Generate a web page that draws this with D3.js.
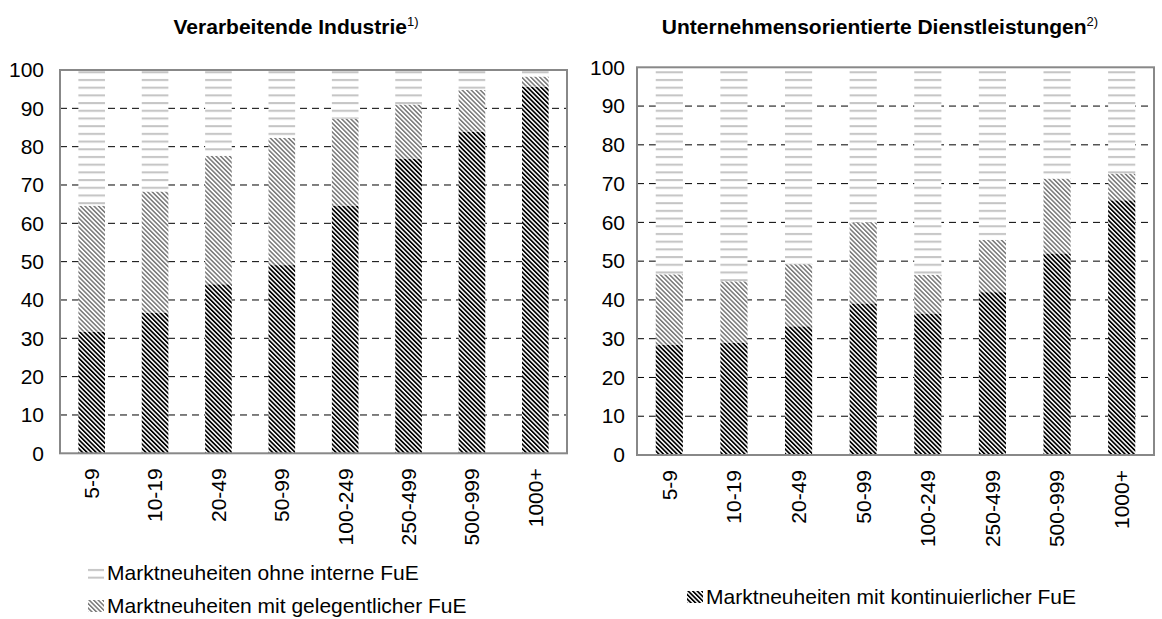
<!DOCTYPE html>
<html>
<head>
<meta charset="utf-8">
<script src="https://cdn.jsdelivr.net/npm/d3@7"></script>
<style>
body { margin: 0; background: #fff; }
text { font-family: "Liberation Sans", Arial, sans-serif; fill: #000; }
</style>
</head>
<body>
<div id="chart"></div>
<script>
var categories = ["5-9", "10-19", "20-49", "50-99", "100-249", "250-499", "500-999", "1000+"];
var seriesKeys = ["kont", "geleg", "ohne"];

// Verarbeitende Industrie
var indKont  = [31.7, 36.7, 44.1, 49.1, 64.6, 76.8, 83.9, 95.6];
var indGeleg = [32.9, 31.6, 33.5, 33.2, 22.7, 14.2, 10.9, 2.7];
var indOhne  = [35.4, 31.7, 22.4, 17.7, 12.7, 9.0, 5.2, 1.7];

// Unternehmensorientierte Dienstleistungen
var dlKont  = [28.4, 28.9, 33.2, 39.1, 36.5, 42.0, 52.0, 65.7];
var dlGeleg = [18.2, 15.9, 16.0, 20.9, 10.0, 13.5, 19.3, 6.9];
var dlOhne  = [53.4, 55.2, 50.8, 40.0, 53.5, 44.5, 28.7, 27.4];

var yTicks = [0, 10, 20, 30, 40, 50, 60, 70, 80, 90, 100];

var w_svg = 1162, h_svg = 619;
var fontFam = "'Liberation Sans', Arial, sans-serif";
var svg = d3.select("#chart").append("svg")
  .attr("width", w_svg).attr("height", h_svg);

// patterns
var defs = svg.append("defs");
function diag(id, color, period, lw) {
  var p = defs.append("pattern").attr("id", id)
    .attr("patternUnits", "userSpaceOnUse")
    .attr("width", period).attr("height", 10)
    .attr("patternTransform", "rotate(-45)");
  p.append("rect").attr("width", period).attr("height", 10).attr("fill", "#fff");
  p.append("rect").attr("width", lw).attr("height", 10).attr("fill", color);
}
diag("pKont", "#000", 3.2, 1.7);
diag("pGeleg", "#777", 3.2, 1.5);
var ph = defs.append("pattern").attr("id", "pOhne")
  .attr("patternUnits", "userSpaceOnUse")
  .attr("width", 10).attr("height", 7.7);
ph.append("rect").attr("width", 10).attr("height", 7.7).attr("fill", "#fff");
ph.append("rect").attr("y", 2).attr("width", 10).attr("height", 2).attr("fill", "#c4c4c4");

var fills = { kont: "url(#pKont)", geleg: "url(#pGeleg)", ohne: "url(#pOhne)" };

function drawPanel(opt) {
  var rows = categories.map(function(c, i) {
    return { cat: c, kont: opt.kont[i], geleg: opt.geleg[i], ohne: opt.ohne[i] };
  });
  var stacked = d3.stack().keys(seriesKeys)(rows);

  var x = d3.scaleBand().domain(categories).range([opt.x0, opt.x1]).paddingInner(0.58).paddingOuter(0.29);
  var y = d3.scaleLinear().domain([0, 100]).range([opt.y0, opt.y1]);

  var g = svg.append("g");

  // dashed grid
  g.selectAll(".grid").data(yTicks.filter(function(t) { return t > 0 && t < 100; }))
    .enter().append("line")
    .attr("x1", opt.x0).attr("x2", opt.x1)
    .attr("y1", function(d) { return y(d); }).attr("y2", function(d) { return y(d); })
    .style("stroke", "#000").style("stroke-width", 1)
    .style("stroke-dasharray", "7,5");

  g.selectAll(".series").data(stacked).enter().append("g")
    .style("fill", function(d) { return fills[d.key]; })
    .selectAll("rect").data(function(d) { return d; })
    .enter().append("rect")
    .attr("x", function(d) { return x(d.data.cat); })
    .attr("y", function(d) { return y(d[1]); })
    .attr("width", x.bandwidth())
    .attr("height", function(d) { return y(d[0]) - y(d[1]); });

  // frame
  g.append("rect")
    .attr("x", opt.x0).attr("y", opt.y1)
    .attr("width", opt.x1 - opt.x0).attr("height", opt.y0 - opt.y1)
    .style("fill", "none").style("stroke", "#888").style("stroke-width", 2);

  // y axis labels
  var ya = g.append("g").attr("transform", "translate(" + opt.x0 + ",0)")
    .call(d3.axisLeft(y).tickValues(yTicks).tickSize(0).tickPadding(opt.tickPad));
  ya.select(".domain").remove();
  ya.selectAll("text").style("font-size", "21px")
    .style("font-family", fontFam).attr("fill", "#000");

  // x axis labels
  var xa = g.append("g").attr("transform", "translate(0," + opt.y0 + ")")
    .call(d3.axisBottom(x).tickSize(0));
  xa.select(".domain").remove();
  xa.selectAll("text")
    .style("font-size", "21px")
    .style("font-family", fontFam)
    .attr("fill", "#000")
    .attr("text-anchor", "end")
    .attr("transform", "rotate(-90)")
    .attr("x", -15).attr("y", 0).attr("dy", "0.35em");

  // title
  var t = svg.append("text").attr("x", opt.titleX).attr("y", 34)
    .attr("text-anchor", "middle")
    .style("font-size", "21px").style("font-weight", "bold");
  t.append("tspan").text(opt.title);
  t.append("tspan").text(opt.sup).attr("dy", -8)
    .style("font-size", "13px").style("font-weight", "normal");
}

drawPanel({
  kont: indKont, geleg: indGeleg, ohne: indOhne,
  x0: 60, x1: 567, y0: 453.3, y1: 70, tickPad: 16,
  title: "Verarbeitende Industrie", sup: "1)", titleX: 296
});
drawPanel({
  kont: dlKont, geleg: dlGeleg, ohne: dlOhne,
  x0: 637, x1: 1154, y0: 455, y1: 67.3, tickPad: 12,
  title: "Unternehmensorientierte Dienstleistungen", sup: "2)", titleX: 880
});

// legends
var legend = [
  { key: "ohne", label: "Marktneuheiten ohne interne FuE", x: 88, y: 573 },
  { key: "geleg", label: "Marktneuheiten mit gelegentlicher FuE", x: 88, y: 606 },
  { key: "kont", label: "Marktneuheiten mit kontinuierlicher FuE", x: 687, y: 597 }
];
var lg = svg.selectAll(".leg").data(legend).enter().append("g")
  .attr("transform", function(d) { return "translate(" + d.x + "," + (d.y - 6) + ")"; });
lg.append("rect")
  .attr("x", 0).attr("y", 0)
  .attr("width", 16).attr("height", 12)
  .style("fill", function(d) { return fills[d.key]; });
lg.append("text")
  .attr("x", 19).attr("y", 6)
  .attr("dy", "0.35em").style("font-size", "21px")
  .text(function(d) { return d.label; });
</script>
</body>
</html>
